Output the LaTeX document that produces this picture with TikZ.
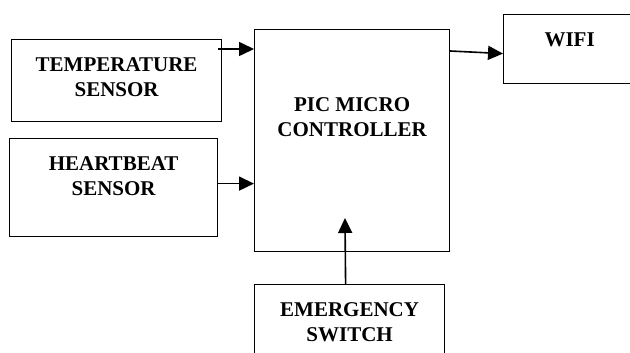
\documentclass[tikz,border=0pt]{standalone}
\usepackage{fontspec}
\setmainfont{Liberation Serif}
\usetikzlibrary{arrows.meta,positioning}

\begin{document}
\begin{tikzpicture}[
    x=1pt, y=-1pt,
    box/.style={draw, line width=1.2pt, inner sep=0pt, text height=57pt, align=center,
      font=\bfseries\fontsize{21}{25}\selectfont, anchor=north west},
    arrow/.style={-{Triangle[length=15pt, width=14pt]}, line width=1.6pt}
  ]
    \useasboundingbox (0,0) rectangle (630,353);
    \node[box, minimum width=210pt, text depth=25pt] (temp) at (11,39) {TEMPERATURE\\SENSOR};
    \node[box, minimum width=208pt, text depth=41pt] (heart) at (9,138) {HEARTBEAT\\SENSOR};
    \node[box, minimum width=195pt, text height=107pt, text depth=115pt] (pic) at (254,29) {PIC MICRO\\CONTROLLER};
    \node[box, minimum width=132pt, text height=31.5pt, text depth=37.5pt] (wifi) at (503,14) {WIFI};
    \node[box, minimum width=190pt, text depth=75pt] (emerg) at (254,284) {EMERGENCY\\SWITCH};
    \coordinate (swin) at (345,218);
    \draw[arrow] ([xshift=-4pt, yshift=-10pt]temp.north east) -- ([yshift=-20pt]pic.north west);
    \draw[arrow] ([yshift=4pt]heart.east) -- ([yshift=4pt]heart.east -| pic.west);
    \draw[arrow] ([yshift=-22pt]pic.north east) -- ([yshift=-4.5pt]wifi.west);
    \draw[arrow] ([xshift=-4pt]emerg.north) -- (swin);
  \end{tikzpicture}
\end{document}
